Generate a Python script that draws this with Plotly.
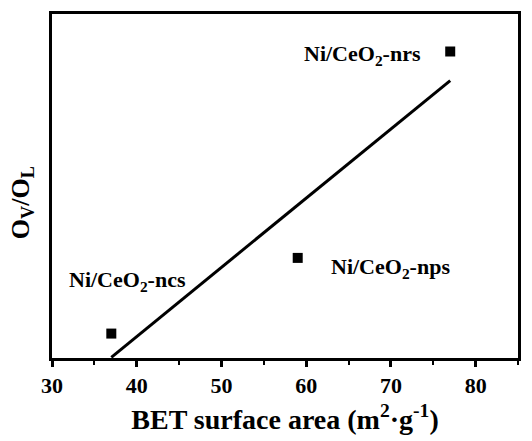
import numpy as np
import plotly.graph_objects as go

# Data (y in arbitrary units, axis has no tick labels)
samples = ["Ni/CeO<sub>2</sub>-ncs", "Ni/CeO<sub>2</sub>-nps", "Ni/CeO<sub>2</sub>-nrs"]
bet_area = [37.0, 59.0, 77.0]
ov_ol = [0.071, 0.291, 0.891]

# Linear fit through the points
slope, intercept = np.polyfit(bet_area, ov_ol, 1)
fit_x = np.array([min(bet_area), max(bet_area)])
fit_y = slope * fit_x + intercept

x_ticks = [30, 40, 50, 60, 70, 80]

font_family = "Liberation Serif, Times New Roman, serif"

fig = go.Figure()
fig.add_trace(go.Scatter(x=fit_x, y=fit_y, mode="lines",
                         line=dict(color="black", width=3), showlegend=False))
fig.add_trace(go.Scatter(x=bet_area, y=ov_ol, mode="markers",
                         marker=dict(symbol="square", size=10, color="black"),
                         showlegend=False))

label_pos = [(38.9, 0.225), (70.0, 0.262), (66.7, 0.88)]
for s, (lx, ly) in zip(samples, label_pos):
    fig.add_annotation(x=lx, y=ly, text="<b>" + s + "</b>", showarrow=False,
                       font=dict(family=font_family, size=22, color="black"),
                       xanchor="center", yanchor="middle")

# y-axis title as a rotated annotation (positioned like the reference)
fig.add_annotation(xref="paper", yref="paper", x=0, y=0.45, xshift=-30,
                   text="<b>O<sub>V</sub>/O<sub>L</sub></b>", textangle=-90,
                   showarrow=False, xanchor="center", yanchor="middle",
                   font=dict(family=font_family, size=26, color="black"))

fig.update_layout(
    width=532, height=441,
    margin=dict(l=52, r=11, t=14, b=77),
    plot_bgcolor="white", paper_bgcolor="white",
    font=dict(family=font_family, color="black"),
)
fig.update_xaxes(
    range=[30, 85], tickvals=x_ticks, ticktext=["<b>%d</b>" % v for v in x_ticks],
    ticks="outside", ticklen=6, tickwidth=2.5, tickcolor="black",
    minor=dict(ticks="outside", ticklen=4, tickwidth=2, tickcolor="black", dtick=5, tick0=35),
    showline=True, linewidth=3, linecolor="black", mirror=True,
    showgrid=False, zeroline=False,
    tickfont=dict(size=22, family=font_family),
    title=dict(text="<b>BET surface area (m<sup>2</sup>·g<sup>-1</sup>)</b>",
               font=dict(size=28, family=font_family), standoff=12),
)
fig.update_yaxes(
    range=[0, 1], showticklabels=False, ticks="",
    showline=True, linewidth=3, linecolor="black", mirror=True,
    showgrid=False, zeroline=False,
)

fig.write_html("out.html")
